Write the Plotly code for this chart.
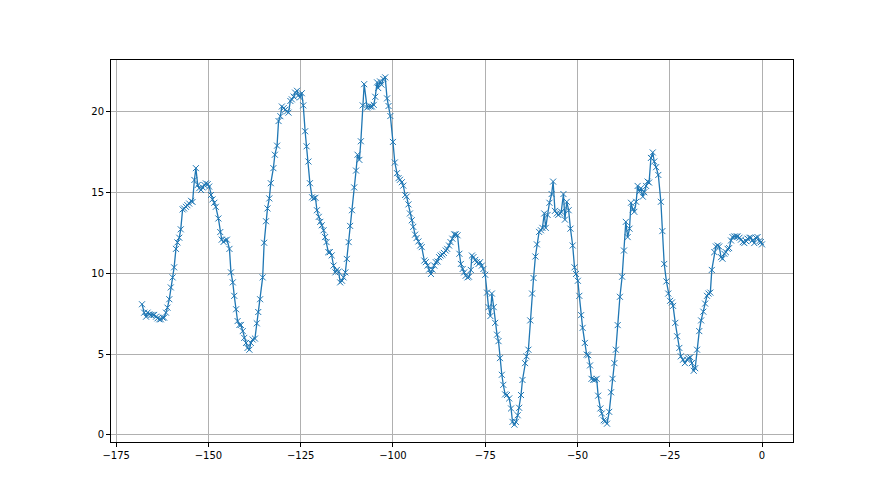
import plotly.graph_objects as go

x_vals = [
    -168.0, -167.4, -166.9, -166.5, -166.0, -165.6, -165.1, -164.7, -164.2, -163.8,
    -163.3, -162.9, -162.4, -162.0, -161.5, -161.1, -160.6, -160.2, -159.7, -159.3,
    -158.8, -158.4, -157.9, -157.5, -157.0, -156.6, -156.1, -155.7, -155.2, -154.7,
    -154.3, -153.8, -153.4, -152.9, -152.5, -152.0, -151.6, -151.1, -150.7, -150.2,
    -149.8, -149.3, -148.9, -148.4, -148.0, -147.3, -146.8, -146.4, -145.9, -145.5,
    -145.0, -144.3, -143.9, -143.4, -143.0, -142.5, -142.1, -141.6, -141.2, -140.7,
    -140.3, -139.8, -139.4, -138.9, -138.5, -138.0, -137.4, -136.9, -136.5,
    -136.0, -135.3, -134.9, -134.4, -134.0, -133.5, -133.1, -132.4, -132.0, -131.4,
    -131.0, -130.5, -130.1, -129.6, -129.2, -128.7, -128.3, -127.8, -127.4, -126.9,
    -126.5, -126.0, -125.6, -125.2, -124.7, -124.3, -123.8, -123.4, -122.9, -122.5,
    -121.9, -121.5, -121.0, -120.6, -120.1, -119.7, -119.3, -118.8, -118.4, -118.0,
    -117.5, -117.1, -116.6, -116.1, -115.6, -115.2, -114.7, -114.3, -113.8, -113.4,
    -112.9, -112.5, -112.0, -111.6, -111.1, -110.5, -110.0, -109.6, -109.1, -108.7,
    -108.2, -107.8,
    -107.0, -106.6, -106.1, -105.7, -105.2, -104.8, -104.3, -104.0, -103.5, -103.1,
    -102.6, -102.1, -101.6, -101.2, -100.7, -100.0, -99.5, -98.9, -98.5, -98.1,
    -97.6, -97.2, -96.7, -96.3, -95.8, -95.4, -94.9, -94.5, -94.0, -93.6,
    -93.1, -92.6, -92.2, -91.5, -91.1, -90.6, -90.2, -89.7, -89.3, -88.8,
    -88.4, -87.9, -87.5,
    -87.1, -86.6, -86.2, -85.7, -85.3, -84.8, -84.4, -83.9, -83.4, -83.0,
    -82.5, -82.0, -81.6, -81.1, -80.7, -80.3, -79.8, -79.4, -78.9, -78.6,
    -78.2, -77.7, -77.3, -76.8, -76.4, -75.9, -75.5, -75.0, -74.5, -74.1,
    -73.6, -73.2, -72.7, -72.3, -71.8, -71.4, -71.0, -70.5, -70.1, -69.6,
    -69.1, -68.5, -68.0, -67.6, -67.1, -66.7, -66.2, -65.8, -65.3, -64.9,
    -64.2, -63.8, -63.3,
    -62.8, -62.3, -61.9, -61.4, -61.0, -60.4, -59.9, -59.5, -59.0, -58.6,
    -58.1, -57.6, -57.0, -56.6, -56.1, -55.6, -55.2, -54.7, -54.4, -53.8,
    -53.4, -52.9, -52.4, -51.9, -51.3, -50.8, -50.4, -49.9, -49.5, -49.0,
    -48.6, -48.0, -47.5, -47.1, -46.6, -46.2, -45.7, -45.3, -44.8, -44.4,
    -43.8, -43.4, -42.9, -42.5, -42.0, -41.4, -40.9, -40.5, -40.0, -39.6,
    -39.1, -38.5, -37.9, -37.4, -36.9, -36.4, -35.9, -35.5, -35.0, -34.6,
    -34.1, -33.7, -33.2, -32.8, -32.3,
    -31.9, -31.4, -31.0, -30.6, -30.1, -29.6, -29.2, -28.7, -28.1, -27.4,
    -27.0, -26.5, -25.9, -25.4, -24.9, -24.4, -24.1, -23.5, -23.0, -22.4,
    -22.0, -21.4, -20.9, -20.3, -19.9, -19.4, -19.0, -18.5, -18.1, -17.6,
    -17.0, -16.5, -15.9, -15.4, -14.9, -14.5, -14.0, -13.6, -12.9, -12.5,
    -12.0, -11.6, -11.1, -10.7, -10.2, -9.8, -9.3, -8.9, -8.4, -8.0,
    -7.5, -7.0, -6.6, -6.1, -5.7, -5.2, -4.8, -4.3, -3.9, -3.4,
    -3.0, -2.6, -2.1, -1.7, -1.2, -0.7, -0.3, 0.0,
]

y_vals = [
    8.08, 7.56, 7.31, 7.56, 7.46, 7.42, 7.42, 7.42, 7.31, 7.21,
    7.15, 7.15, 7.25, 7.25, 7.56, 7.87, 8.39, 9.12, 9.74, 10.36,
    11.5, 11.9, 12.19, 12.71, 13.94, 14.0, 14.1, 14.2, 14.3, 14.47,
    14.4, 15.76, 16.49, 15.45, 15.25, 15.14, 15.3, 15.45, 15.55, 15.5,
    15.35, 14.83, 14.56, 14.35, 14.1, 13.38, 12.54, 12.07, 11.93, 12.03,
    12.07, 11.5, 10.05, 9.43, 8.6, 7.77, 7.04, 6.8, 6.8, 6.42,
    6.0, 5.69, 5.38, 5.27, 5.69, 5.9, 5.96, 6.9, 7.6,
    8.39, 9.74, 11.88, 13.21, 14.0, 14.62, 15.56, 16.49, 17.32, 17.88,
    19.4, 19.7, 20.3, 20.2, 20.1, 20.0, 19.92, 20.64, 20.74, 20.91,
    21.16, 21.27, 21.0, 20.86, 21.12, 20.37, 18.77, 17.84, 16.9, 15.56,
    14.69, 14.62, 14.66, 13.89, 13.48, 13.17, 12.96, 12.65, 12.23, 11.92,
    11.3, 11.3, 11.1, 10.47, 10.05, 10.2, 10.1, 9.43, 9.53, 9.74,
    10.05, 10.88, 11.92, 12.92, 13.89, 15.3, 16.34, 17.32, 17.0, 18.15,
    20.37, 21.68,
    20.23, 20.3, 20.3, 20.3, 20.4, 20.9, 21.79, 21.44, 21.85, 21.65,
    22.0, 22.1, 20.8, 20.33, 19.71, 18.11, 16.84, 16.18, 15.87, 15.77,
    15.62, 15.41, 14.83, 14.73, 14.25, 13.69, 13.27, 12.86, 12.38, 12.17,
    11.96, 11.71, 11.61, 10.78, 10.68, 10.47, 10.22, 9.95, 10.22, 10.47,
    10.68, 10.72, 10.99,
    11.09, 11.15, 11.25, 11.4, 11.5, 11.71, 11.92, 12.13, 12.4, 12.4,
    12.34, 11.2, 10.57, 10.26, 10.05, 9.84, 9.74, 9.78, 10.2, 11.09,
    10.99, 10.82, 10.68, 10.57, 10.68, 10.47, 10.26, 9.9, 8.8, 7.9,
    7.35, 8.74, 7.9, 6.93, 6.2, 5.8, 4.75, 3.72, 3.1, 2.51,
    2.47, 2.26, 1.64, 0.81, 0.64, 0.81, 1.22, 1.68, 2.47, 3.4,
    4.44, 4.86, 5.27,
    7.08, 8.74, 9.7, 11.03, 11.78, 12.55, 12.65, 12.8, 13.69, 12.8,
    13.6, 14.35, 14.89, 15.66, 13.85, 13.69, 13.6, 13.69, 13.79, 14.89,
    13.31, 14.41, 13.89, 12.75, 11.71, 10.36, 9.95, 9.53, 8.6, 7.41,
    6.62, 5.69, 4.97, 4.93, 4.3, 3.47, 3.41, 3.41, 3.47, 2.43,
    1.64, 1.33, 0.91, 0.85, 0.7, 1.43, 2.64, 3.47, 4.44, 5.27,
    6.79, 8.54, 9.78, 11.4, 13.17, 12.23, 12.75, 14.35, 13.94, 13.79,
    14.41, 15.39, 15.04, 15.25, 14.73,
    15.0, 15.39, 15.66, 15.6, 17.12, 17.46, 16.9, 16.55, 16.07, 14.41,
    12.6, 10.57, 9.49, 8.74, 8.29, 8.19, 7.98, 6.93, 6.1, 5.38,
    4.86, 4.65, 4.44, 4.65, 4.75, 4.8, 4.44, 3.97, 4.13, 5.27,
    6.42, 7.08, 7.62, 8.12, 8.6, 8.74, 8.8, 10.2, 11.3, 11.65,
    11.71, 11.65, 10.99, 10.89, 11.2, 11.3, 11.5, 11.55, 12.02, 12.23,
    12.27, 12.27, 12.27, 12.19, 12.07, 11.92, 11.86, 11.98, 12.13, 12.19,
    12.19, 12.02, 11.86, 12.19, 12.23, 11.98, 11.92, 11.78,
]

x_ticks = [-175, -150, -125, -100, -75, -50, -25, 0]
y_ticks = [0, 5, 10, 15, 20]

# matplotlib-like 5% autoscale margins
xmin, xmax = min(x_vals), max(x_vals)
ymin, ymax = min(y_vals), max(y_vals)
xpad = (xmax - xmin) * 0.05
ypad = (ymax - ymin) * 0.05

fig = go.Figure(go.Scatter(
    x=x_vals, y=y_vals,
    mode="lines+markers",
    line=dict(color="#1f77b4", width=1.3),
    marker=dict(symbol="x-thin", size=6, color="#1f77b4",
                line=dict(width=1, color="#1f77b4")),
))

axis_style = dict(
    showline=True, linecolor="black", linewidth=1, mirror=True,
    ticks="outside", ticklen=4, tickcolor="black", tickwidth=1,
    showgrid=True, gridcolor="#b0b0b0", gridwidth=0.8, zeroline=False,
    tickfont=dict(family="DejaVu Sans", size=10, color="black"),
)

# the page body adds ~7px offset, so margins are shifted to compensate
fig.update_layout(
    width=880, height=495,
    margin=dict(l=103, r=95, t=52, b=61),
    paper_bgcolor="white", plot_bgcolor="white",
    showlegend=False,
    xaxis=dict(range=[xmin - xpad, xmax + xpad], tickvals=x_ticks, **axis_style),
    yaxis=dict(range=[ymin - ypad, ymax + ypad], tickvals=y_ticks, **axis_style),
)

fig.write_html("out.html")
